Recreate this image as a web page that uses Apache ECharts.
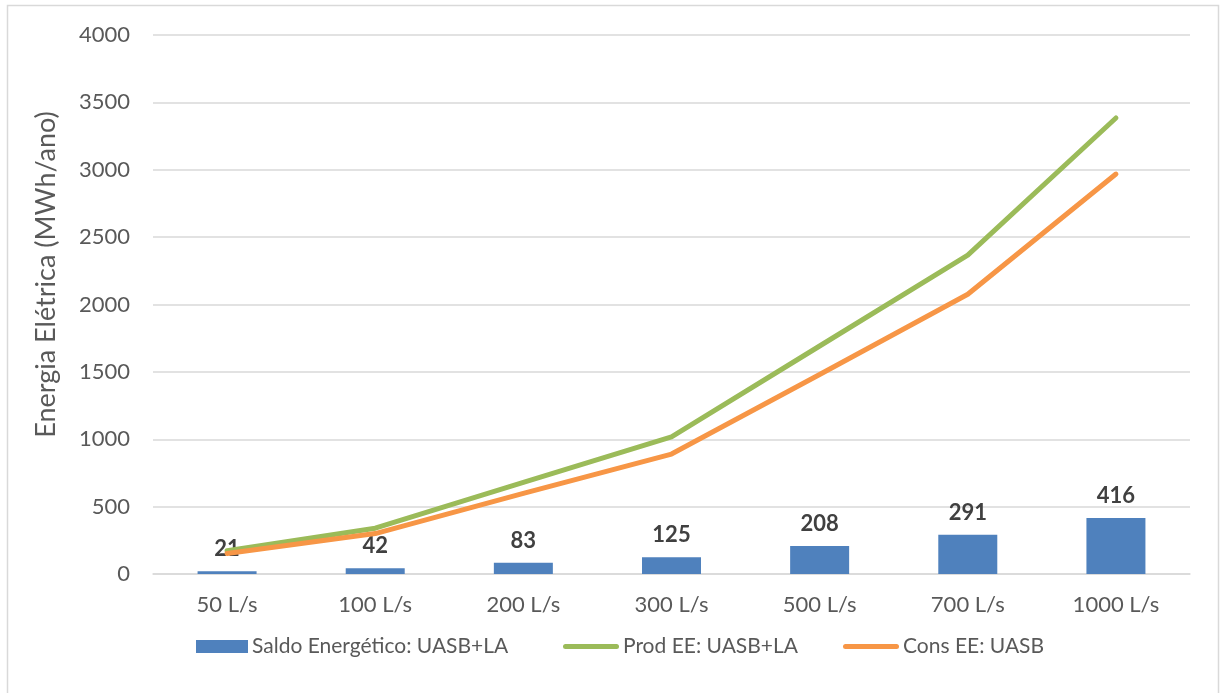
<!DOCTYPE html>
<html>
<head>
<meta charset="utf-8">
<script src="https://cdn.jsdelivr.net/npm/echarts@6/dist/echarts.min.js"></script>
<style>html,body{margin:0;padding:0;background:#fff;}#c{width:1221px;height:693px;}</style>
</head>
<body>
<div id="c"></div>
<script>
const categories = ['50 L/s','100 L/s','200 L/s','300 L/s','500 L/s','700 L/s','1000 L/s'];
const saldo = [21, 42, 83, 125, 208, 291, 416];
const prod = [172, 340, 680, 1017, 1692, 2367, 3384];
const cons = [152, 300, 598, 890, 1480, 2076, 2968];
const yTicks = { min: 0, max: 4000, interval: 500 };
const names = ['Saldo Energético: UASB+LA', 'Prod EE: UASB+LA', 'Cons EE: UASB'];

const FONT = 'Lato';
const chart = echarts.init(document.getElementById('c'), null, {renderer: 'canvas'});
const lineIcon = 'path://M2.5,0 L53.5,0 A2.5,2.5 0 0 1 53.5,5 L2.5,5 A2.5,2.5 0 0 1 2.5,0 Z';
function leg(name, left, icon, w) {
  return {
    data: [{name: name, icon: icon}],
    left: left, top: 636, padding: 0,
    itemWidth: w, itemHeight: 13, itemGap: 0,
    textStyle: {fontFamily: FONT, fontSize: 21, color: '#595959', padding: [0,0,0,-1]},
    selectedMode: false
  };
}
chart.setOption({
  animation: false,
  graphic: [{type: 'rect', shape: {x: 7.5, y: 5.5, width: 1211, height: 720},
    style: {fill: 'none', stroke: '#D9D9D9', lineWidth: 1.5}, silent: true}],
  grid: {left: 153, right: 31, top: 35, bottom: 119},
  legend: [leg(names[0], 196, 'rect', 52), leg(names[1], 563, lineIcon, 56), leg(names[2], 843, lineIcon, 56)],
  xAxis: {
    type: 'category', data: categories,
    axisLine: {lineStyle: {color: '#D9D9D9', width: 1.5}},
    axisTick: {show: false},
    axisLabel: {fontFamily: FONT, fontSize: 22, color: '#595959', margin: 20}
  },
  yAxis: {
    type: 'value', min: yTicks.min, max: yTicks.max, interval: yTicks.interval,
    name: 'Energia Elétrica (MWh/ano)', nameLocation: 'middle', nameGap: 93,
    nameTextStyle: {fontFamily: FONT, fontSize: 27, color: '#595959', padding: [0,0,0,60]},
    axisLine: {show: false}, axisTick: {show: false},
    axisLabel: {fontFamily: FONT, fontSize: 22, color: '#595959', margin: 23,
      formatter: function (v) { return String(v); }},
    splitLine: {lineStyle: {color: '#D9D9D9', width: 1.5}}
  },
  series: [
    {name: names[0], type: 'bar', data: saldo, barWidth: 59,
      itemStyle: {color: '#4F81BD'},
      label: {show: true, position: 'top', distance: 11, fontFamily: FONT, fontSize: 22, fontWeight: 'bold', color: '#404040'}},
    {name: names[1], type: 'line', data: prod, symbol: 'none', z: 3,
      lineStyle: {color: '#9BBB59', width: 5, cap: 'round', join: 'round'}, itemStyle: {color: '#9BBB59'}},
    {name: names[2], type: 'line', data: cons, symbol: 'none', z: 4,
      lineStyle: {color: '#F79646', width: 5, cap: 'round', join: 'round'}, itemStyle: {color: '#F79646'}}
  ]
});
</script>
</body>
</html>
